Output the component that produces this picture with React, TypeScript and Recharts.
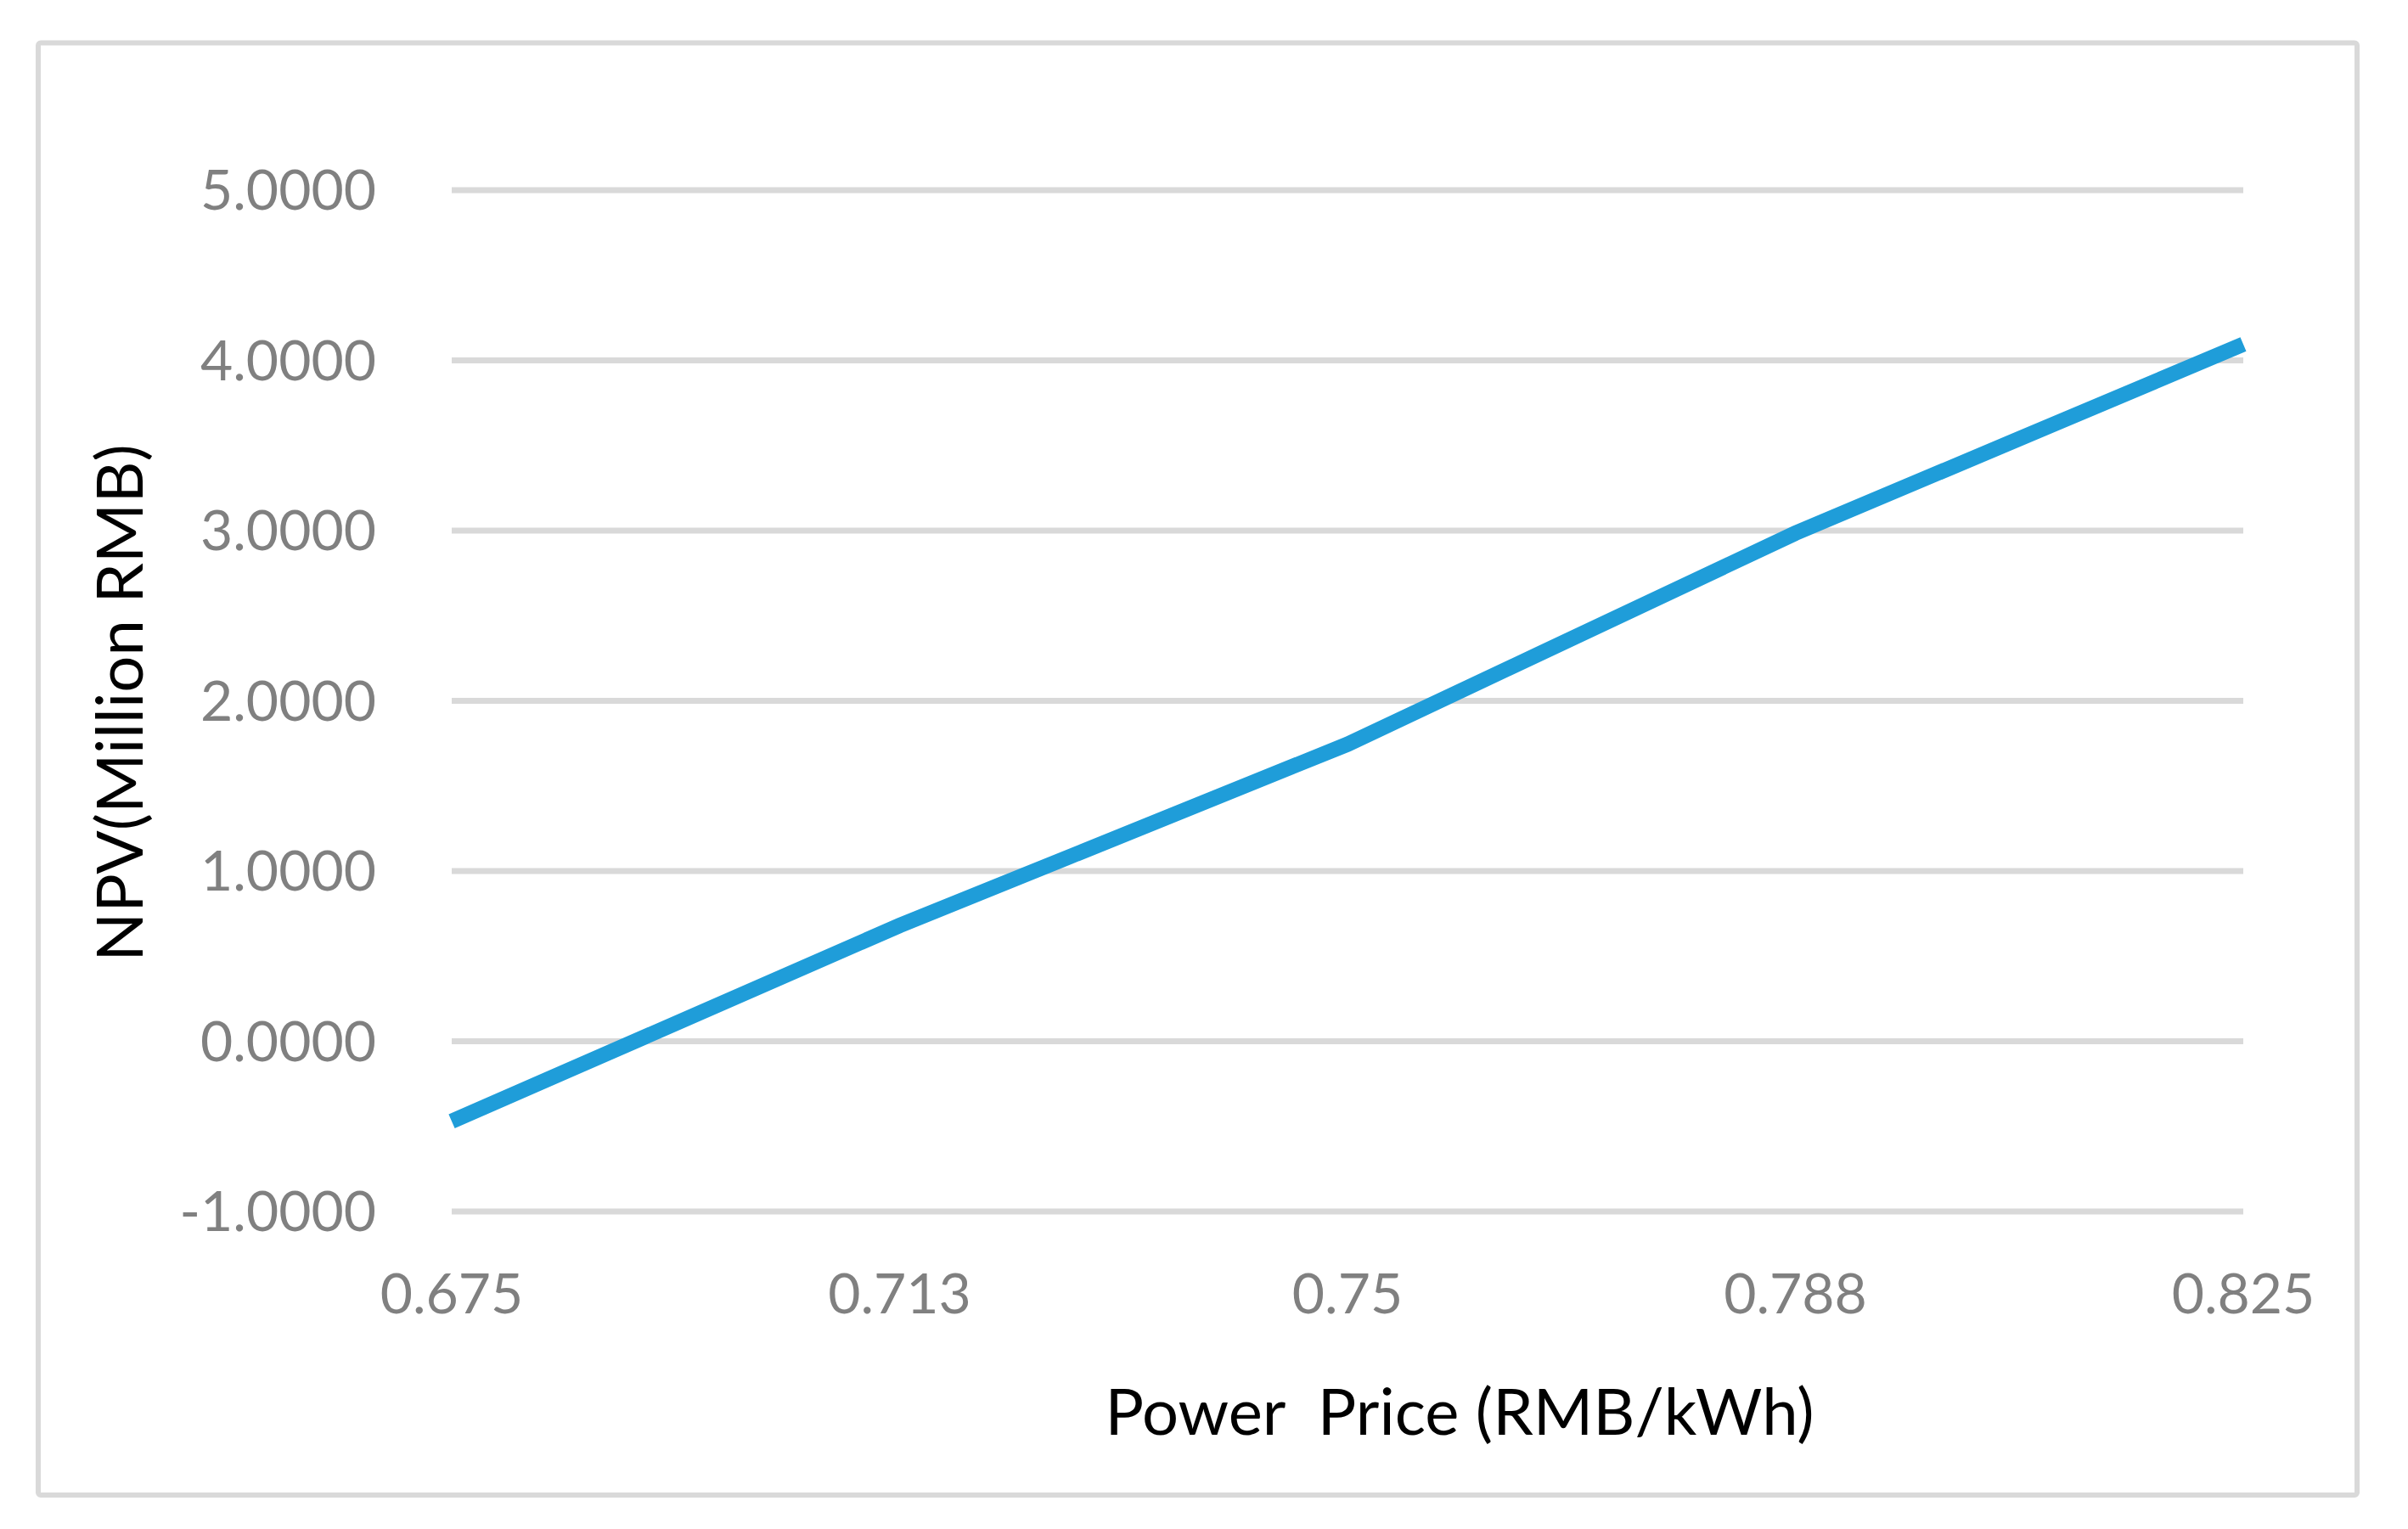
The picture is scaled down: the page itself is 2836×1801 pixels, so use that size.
import React from 'react'
import { LineChart, Line, XAxis, YAxis, CartesianGrid } from 'recharts'

// power price (RMB/kWh) vs NPV (million RMB)
const prices = ['0.675', '0.713', '0.75', '0.788', '0.825']
const npv = [-0.47, 0.68, 1.745, 2.985, 4.095]
const yTicks = [-1, 0, 1, 2, 3, 4, 5]

const data = prices.map((p, i) => ({ price: p, npv: npv[i] }))

const W = 2836
const H = 1801
const FONT = 'Lato, "Open Sans", sans-serif'

export default function App() {
  return (
    <div style={{ position: 'absolute', left: 0, top: 0, width: W, height: H, background: '#fff' }}>
      <LineChart
        width={W}
        height={H}
        data={data}
        margin={{ top: 224, right: 194, bottom: 274, left: 132 }}
      >
        <CartesianGrid vertical={false} stroke="#D9D9D9" strokeWidth={7} />
        <XAxis
          dataKey="price"
          height={100}
          axisLine={false}
          tickLine={false}
          tickSize={0}
          tickMargin={73}
          interval={0}
          tick={{ fontSize: 66, fill: '#808080', fontFamily: FONT }}
        />
        <YAxis
          width={400}
          domain={[-1, 5]}
          ticks={yTicks}
          axisLine={false}
          tickLine={false}
          tickSize={0}
          tickMargin={89}
          tickFormatter={(v: number) => v.toFixed(4)}
          tick={{ fontSize: 66, fill: '#808080', fontFamily: FONT }}
        />
        <Line
          type="linear"
          dataKey="npv"
          stroke="#1F9DD9"
          strokeWidth={18}
          dot={false}
          activeDot={false}
          isAnimationActive={false}
        />
      </LineChart>

      {/* frame + axis titles */}
      <svg
        width={W}
        height={H}
        style={{ position: 'absolute', left: 0, top: 0, pointerEvents: 'none' }}
      >
        <rect x={45} y={50.5} width={2731} height={1710.5} rx={3} fill="none" stroke="#D9D9D9" strokeWidth={6} />
        <text
          x={1719}
          y={1690}
          textAnchor="middle"
          fontSize={76}
          fontFamily={FONT}
          fill="#000"
          style={{ whiteSpace: 'pre' }}
        >
          {'Power  Price (RMB/kWh)'}
        </text>
        <text
          x={168}
          y={828}
          textAnchor="middle"
          fontSize={76}
          fontFamily={FONT}
          fill="#000"
          transform="rotate(-90, 168, 828)"
        >
          NPV(Million RMB)
        </text>
      </svg>
    </div>
  )
}
